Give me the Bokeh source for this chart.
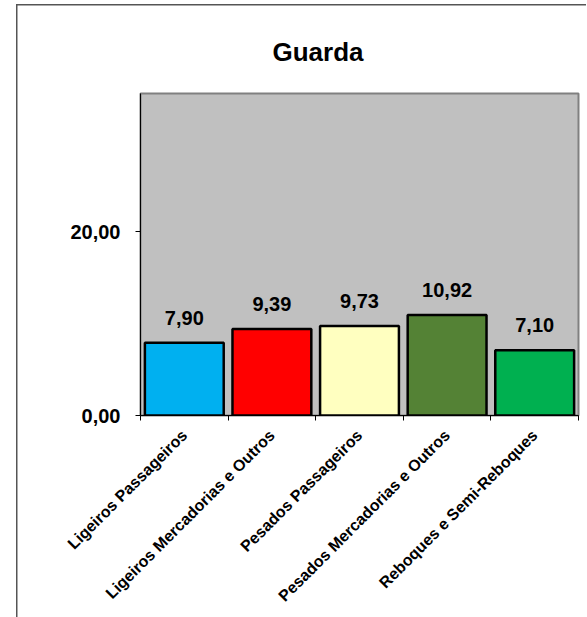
import numpy as np
from bokeh.plotting import figure
from bokeh.models import Range1d, FixedTicker, ColumnDataSource
from bokeh.core.properties import value
from bokeh.embed import file_html
from bokeh.resources import INLINE

# ---- data ----
title_text = "Guarda"
categories = ["Ligeiros Passageiros", "Ligeiros Mercadorias e Outros",
              "Pesados Passageiros", "Pesados Mercadorias e Outros",
              "Reboques e Semi-Reboques"]
values = [7.90, 9.39, 9.73, 10.92, 7.10]
colors = ["#00B0F0", "#FF0000", "#FFFFC0", "#548235", "#00B050"]
y_ticks = [0, 20]
y_tick_labels = ["0,00", "20,00"]
y_max = 35

FONT = "Liberation Sans"

n = len(categories)
xs = [i + 0.5 for i in range(n)]
labels = [f"{v:.2f}".replace(".", ",") for v in values]
src = ColumnDataSource(dict(x=xs, top=values, color=colors, label=labels))

p = figure(width=587, height=617, output_backend="svg", toolbar_location=None,
           x_range=Range1d(0, n), y_range=Range1d(0, y_max),
           min_border_left=140, min_border_right=9, min_border_top=93,
           min_border_bottom=202)

p.background_fill_color = "#C0C0C0"
p.border_fill_color = None
p.styles = {
    "background": ("linear-gradient(#555555,#555555) 16px 4px / 570px 1.5px no-repeat, "
                   "linear-gradient(#555555,#555555) 16px 4px / 1.5px 613px no-repeat, "
                   "white"),
}
p.outline_line_color = "#808080"
p.outline_line_width = 2
p.xgrid.visible = False
p.ygrid.visible = False

p.vbar(x="x", top="top", width=0.9, bottom=0, fill_color="color",
       line_color="black", line_width=2.5, source=src)

p.text(x="x", y="top", text="label", source=src, y_offset=-25,
       text_align="center", text_baseline="alphabetic",
       text_font=value(FONT), text_font_style="bold", text_font_size="20px",
       text_color="black")

# y axis
p.yaxis.ticker = FixedTicker(ticks=y_ticks, minor_ticks=[])
p.yaxis.major_label_overrides = {t: l for t, l in zip(y_ticks, y_tick_labels)}
p.yaxis.axis_line_color = "black"
p.yaxis.major_tick_line_color = "black"
p.yaxis.major_tick_out = 5
p.yaxis.major_tick_in = 0
p.yaxis.major_label_standoff = 15
p.yaxis.major_label_text_font = FONT
p.yaxis.major_label_text_font_style = "bold"
p.yaxis.major_label_text_font_size = "20px"
p.yaxis.major_label_text_color = "black"

# x axis
p.xaxis.ticker = FixedTicker(ticks=xs, minor_ticks=list(range(n + 1)))
p.xaxis.major_label_overrides = {x: c for x, c in zip(xs, categories)}
p.xaxis.axis_line_color = "black"
p.xaxis.major_tick_out = 0
p.xaxis.major_tick_in = 0
p.xaxis.minor_tick_out = 5
p.xaxis.minor_tick_in = 0
p.xaxis.minor_tick_line_color = "black"
p.xaxis.major_label_orientation = np.pi / 4
p.xaxis.major_label_standoff = 12
p.xaxis.major_label_text_font = FONT
p.xaxis.major_label_text_font_style = "bold"
p.xaxis.major_label_text_font_size = "16px"
p.xaxis.major_label_text_color = "black"

# title
p.title.text = title_text
p.title.align = "left"
p.title.offset = 132
p.title.text_font = FONT
p.title.text_font_style = "bold"
p.title.text_font_size = "26px"
p.title.text_color = "black"
p.title.standoff = 54

open("out.html", "w").write(file_html(p, INLINE))
